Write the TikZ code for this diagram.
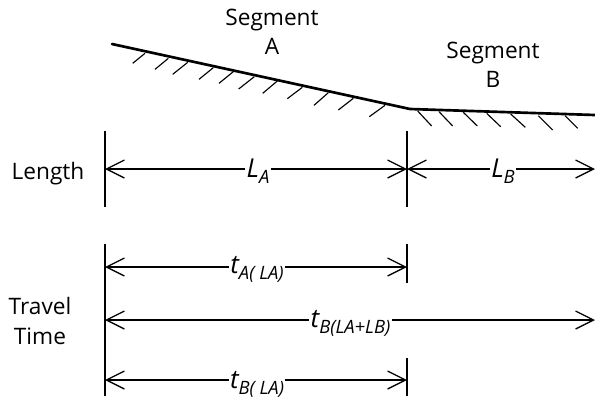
\documentclass[tikz,border=0pt]{standalone}
\usepackage{fontspec}
\setmainfont{Open Sans}
\usetikzlibrary{arrows.meta}
\newcommand{\lbl}[2]{{\fontsize{19.5pt}{21pt}\selectfont\itshape #1}\raisebox{-4.5pt}{\fontsize{13.8pt}{15pt}\selectfont\itshape #2}}
\tikzset{
  road/.style={line width=2pt,line cap=round,line join=round},
  hatch/.style={line width=0.85pt},
  tick/.style={line width=1pt},
  dim/.style={line width=0.9pt,{Straight Barb[length=13.5pt,width=13.5pt,line width=0.95pt]}-{Straight Barb[length=13.5pt,width=13.5pt,line width=0.95pt]}},
  txt/.style={font=\fontsize{17pt}{22pt}\selectfont,align=center,inner sep=0pt},
  dimlbl/.style={fill=white,inner sep=1pt,anchor=base}
}
\begin{document}
\begin{tikzpicture}[x=0.75pt,y=-0.75pt]
\useasboundingbox (0,0) rectangle (595,401);
% road
\coordinate (r1) at (112,44);
\coordinate (r2) at (410,109);
\coordinate (r3) at (595,115);
\draw[road] (r1) -- (r2) -- (r3);
% hatches A
\foreach \a/\b/\c/\d in {165/160/128/190,235/175/195/208,293/187/248/223,370/203/327/238,430/215/387/250,493/230/446/267,562/243/518/280,637/262/592/296,715/278/672/316,790/295/745/330,885/316/838/350}
  \draw[hatch] ({\a/3+90},{\b/3}) -- ({\c/3+90},{\d/3});
% hatches B
\foreach \a/\b/\c/\d in {113/273/155/318,177/275/218/318,250/277/292/318,320/280/362/320,392/282/436/322,475/287/518/330,555/287/593/325}
  \draw[hatch] ({\a/3+380},{\b/3+20}) -- ({\c/3+380},{\d/3+20});
% ticks
\coordinate (v1a) at (105,131); \coordinate (v1b) at (105,207);
\coordinate (v2a) at (407,131); \coordinate (v2b) at (407,207);
\coordinate (v3a) at (105,244); \coordinate (v3b) at (105,396);
\coordinate (v4a) at (407,244); \coordinate (v4b) at (407,283);
\coordinate (v5a) at (407,358); \coordinate (v5b) at (407,396);
\foreach \p/\q in {v1a/v1b,v2a/v2b,v3a/v3b,v4a/v4b,v5a/v5b}
  \draw[tick] (\p) -- (\q);
% dimension ends
\coordinate (la) at (105,169); \coordinate (lb) at (407,169); \coordinate (lc) at (595,169);
\coordinate (ta1) at (105,267); \coordinate (ta2) at (407,267);
\coordinate (tm1) at (105,320); \coordinate (tm2) at (595,320);
\coordinate (tb1) at (105,380); \coordinate (tb2) at (407,380);
\draw[dim] (la) -- (lb);
\draw[dim] (lb) -- (lc);
\draw[dim] (ta1) -- (ta2);
\draw[dim] (tm1) -- (tm2);
\draw[dim] (tb1) -- (tb2);
% dimension labels
\node[dimlbl] (nla) at (258,177) {\lbl{L}{A}};
\node[dimlbl] (nlb) at (503,177) {\lbl{L}{B}};
\node[dimlbl] (nta) at (257,273) {\lbl{t}{A( LA)}};
\node[dimlbl] (ntm) at (350.5,327) {\lbl{t}{B(LA+LB)}};
\node[dimlbl] (ntb) at (257,388) {\lbl{t}{B( LA)}};
% text
\node[txt] (sa) at (272,32) {Segment\\A};
\node[txt] (sb) at (493,65) {Segment\\B};
\node[txt] (len) at (48,174) {Length};
\node[txt] (tt) at (40,321) {Travel\\Time};
\end{tikzpicture}
\end{document}
